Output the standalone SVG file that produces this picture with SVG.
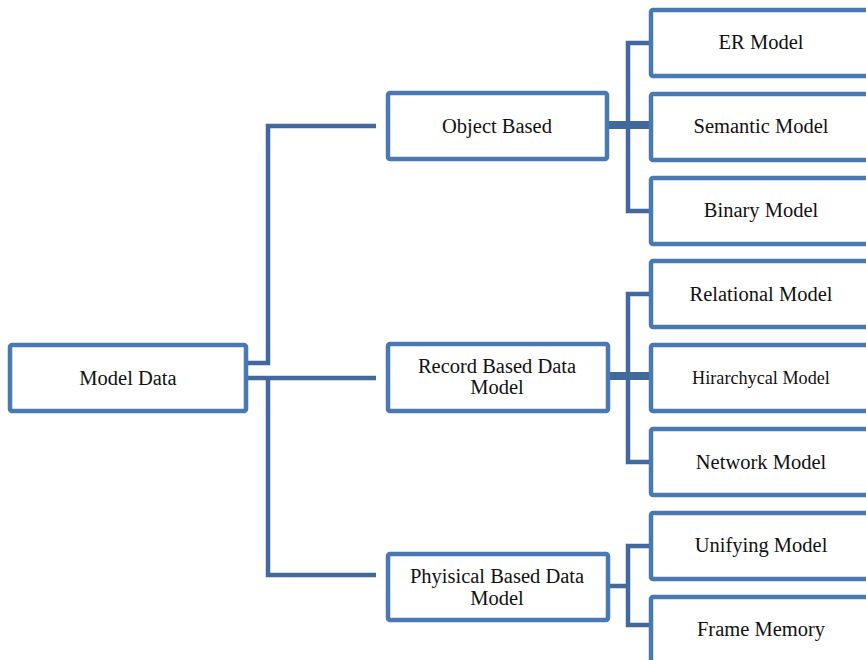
<svg xmlns="http://www.w3.org/2000/svg" width="866" height="660" viewBox="0 0 866 660">
<style>
.box{fill:#ffffff;stroke:#4a78b0;stroke-width:4.5;}
text{font-family:'Liberation Serif','DejaVu Serif',serif;fill:#111;text-anchor:middle;}
.t{font-size:20.5px;}
.ts{font-size:18.2px;}
.c{fill:none;stroke:#41699d;stroke-width:4.5;}
.cb{fill:none;stroke:#41699d;stroke-width:8;}
</style>
<rect width="866" height="660" fill="#ffffff"/>
<g id="connectors">
<path class="c" d="M246,363 H268 V126 H376"/>
<path class="c" d="M246,378 H376"/>
<path class="c" d="M268,378 V575 H376"/>
<path class="cb" d="M606,125 H651"/>
<path class="c" d="M651,43 H628 V211 H651"/>
<path class="cb" d="M608,376 H651"/>
<path class="c" d="M651,294 H628 V462 H651"/>
<path class="c" d="M608,586 H628"/>
<path class="c" d="M651,546 H628 V625 H651"/>
</g>
<g id="model-data"><rect class="box" x="10" y="345" width="236" height="66" rx="2"/><text class="t" x="128" y="385">Model Data</text></g>
<g id="object-based"><rect class="box" x="388" y="93" width="219" height="66" rx="2"/><text class="t" x="497" y="133">Object Based</text></g>
<g id="record-based"><rect class="box" x="388" y="344" width="220" height="67" rx="2"/><text class="t" x="497" y="373">Record Based Data</text><text class="t" x="497" y="394">Model</text></g>
<g id="physical-based"><rect class="box" x="388" y="554" width="220" height="66" rx="2"/><text class="t" x="497" y="583">Phyisical Based Data</text><text class="t" x="497" y="605">Model</text></g>
<g id="er-model"><rect class="box" x="651" y="10" width="240" height="66" rx="2"/><text class="t" x="761" y="49">ER Model</text></g>
<g id="semantic-model"><rect class="box" x="651" y="94" width="240" height="66" rx="2"/><text class="t" x="761" y="133">Semantic Model</text></g>
<g id="binary-model"><rect class="box" x="651" y="178" width="240" height="66" rx="2"/><text class="t" x="761" y="217">Binary Model</text></g>
<g id="relational-model"><rect class="box" x="651" y="261" width="240" height="66" rx="2"/><text class="t" x="761" y="301">Relational Model</text></g>
<g id="hirarchycal-model"><rect class="box" x="651" y="345" width="240" height="66" rx="2"/><text class="ts" x="761" y="384">Hirarchycal Model</text></g>
<g id="network-model"><rect class="box" x="651" y="429" width="240" height="66" rx="2"/><text class="t" x="761" y="469">Network Model</text></g>
<g id="unifying-model"><rect class="box" x="651" y="513" width="240" height="66" rx="2"/><text class="t" x="761" y="552">Unifying Model</text></g>
<g id="frame-memory"><rect class="box" x="651" y="597" width="240" height="66" rx="2"/><text class="t" x="761" y="636">Frame Memory</text></g>
</svg>
